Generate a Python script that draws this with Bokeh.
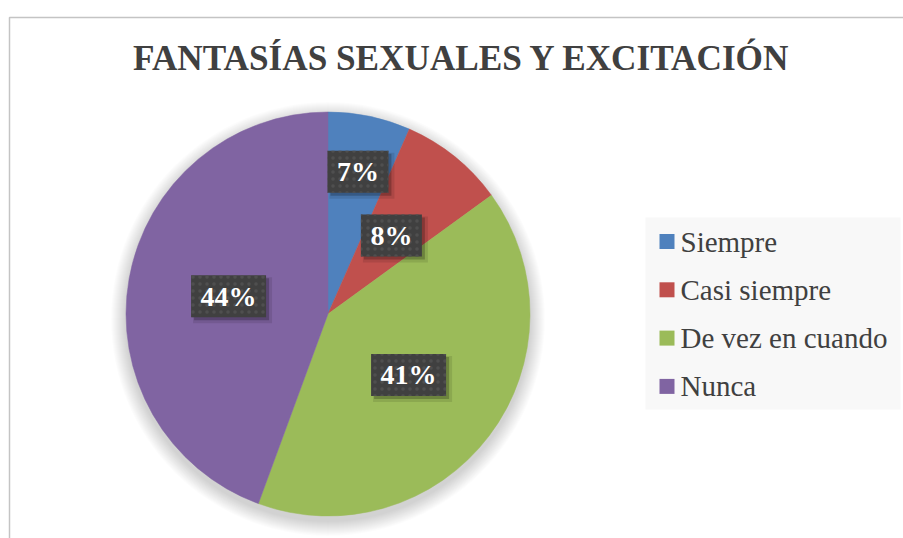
import math
from bokeh.plotting import figure
from bokeh.models import Range1d
from bokeh.core.properties import value
from bokeh.embed import file_html
from bokeh.resources import INLINE

# ---- data ----
title_text = "FANTASÍAS SEXUALES Y EXCITACIÓN"
categories = ["Siempre", "Casi siempre", "De vez en cuando", "Nunca"]
shares = [6.6, 8.4, 40.6, 44.4]
colors = ["#4f81bd", "#c0504d", "#9bbb59", "#8064a2"]

# ---- style / layout constants ----
W, H = 903, 538
CX, CY, R = 327.5, 224.5, 202
label_rfrac = [0.72, 0.5, 0.5, 0.5]
SERIF = "Liberation Serif"

p = figure(width=W, height=H, output_backend="svg", toolbar_location=None,
           x_range=Range1d(0, W), y_range=Range1d(0, H), min_border=0)
p.axis.visible = False
p.grid.visible = False
p.outline_line_color = None
p.background_fill_color = "white"

# chart border (left and top visible; rest clipped)
p.line(x=[9, 9, W + 10], y=[-10, 521, 521], line_color="#c4c4c4", line_width=1.5)

# soft pie shadow
for k in range(1, 16):
    p.circle(x=[CX], y=[CY - 5], radius=R + k * 1.0, fill_color="black",
             fill_alpha=0.012, line_color=None)

# pie slices
total = sum(shares)
cum = 0.0
starts, ends, mids = [], [], []
for v in shares:
    a0 = math.pi / 2 - 2 * math.pi * cum / total
    cum += v
    a1 = math.pi / 2 - 2 * math.pi * cum / total
    starts.append(a0)
    ends.append(a1)
    mids.append((a0 + a1) / 2)

p.wedge(x=[CX] * len(shares), y=[CY] * len(shares), radius=R,
        start_angle=starts, end_angle=ends, direction="clock",
        fill_color=colors, line_color=colors, line_width=0.5)

# data labels
labels = [f"{round(v / total * 100)}%" for v in shares]
FS = 28
lx = [CX + f * R * math.cos(m) for f, m in zip(label_rfrac, mids)]
ly = [CY + f * R * math.sin(m) for f, m in zip(label_rfrac, mids)]
bw = [(0.5 * (len(t) - 1) + 1.0) * FS + 19 for t in labels]
bh = [42] * len(labels)
# shadows
p.rect(x=[x + 4 for x in lx], y=[y - 4 for y in ly], width=[w + 4 for w in bw],
       height=[h + 4 for h in bh], fill_color="black", fill_alpha=0.1, line_color=None)
p.rect(x=[x + 3 for x in lx], y=[y - 3 for y in ly], width=bw, height=bh,
       fill_color="black", fill_alpha=0.22, line_color=None)
p.rect(x=lx, y=ly, width=bw, height=bh, fill_color="#404040", line_color=None,
       hatch_pattern="dot", hatch_color="#4f4f4f", hatch_scale=7, hatch_weight=1.5)
p.text(x=lx, y=ly, text=labels, text_align="center", text_baseline="middle",
       text_font=value(SERIF), text_font_style="bold", text_font_size=f"{FS}px",
       text_color="white")

# title
p.text(x=[461.5], y=[480], text=[title_text], text_align="center",
       text_baseline="middle", text_font=value(SERIF), text_font_style="bold",
       text_font_size="35.2px", text_color="#404040")

# legend (drawn manually)
LX0, LX1, LY1, LY0 = 645, 900, 321, 129
p.quad(left=[LX0], right=[LX1], top=[LY1], bottom=[LY0], fill_color="#f8f8f8",
       line_color=None)
row_y = [LY1 - 24 - i * 48.3 for i in range(len(categories))]
p.rect(x=[666.5] * len(categories), y=row_y, width=15, height=15,
       fill_color=colors, line_color=None)
p.text(x=[680] * len(categories), y=row_y, text=categories,
       text_align="left", text_baseline="middle", text_font=value(SERIF),
       text_font_size="29px", text_color="#404040")

open("out.html", "w").write(file_html(p, INLINE))
